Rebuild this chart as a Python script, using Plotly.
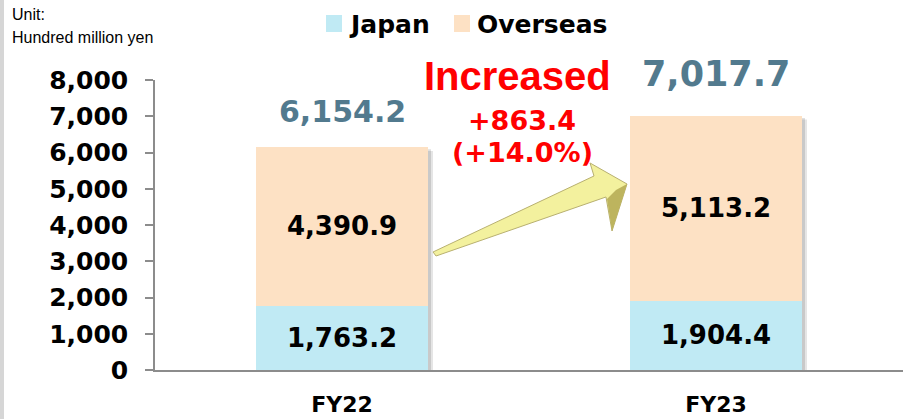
import plotly.graph_objects as go

categories = ["FY22", "FY23"]
japan = [1763.2, 1904.4]
overseas = [4390.9, 5113.2]
totals = [6154.2, 7017.7]
y_ticks = [0, 1000, 2000, 3000, 4000, 5000, 6000, 7000, 8000]
diff_label = "+863.4"
pct_label = "(+14.0%)"
series_names = ["Japan", "Overseas"]
series_colors = ["#C0EAF4", "#FDE1C4"]

W, H = 904, 419
L, R, T, B = 155, 903, 80, 370
FONT = "Verdana, DejaVu Sans, sans-serif"
BAR_W = 0.46
TOTAL_FONT = [30, 35]
TOTAL_SHIFT = [16, 20]

def px(x):
    return (x - L) / (R - L)

def py(y):
    return (B - y) / (B - T)

fig = go.Figure()
for name, vals, col in zip(series_names, [japan, overseas], series_colors):
    fig.add_trace(go.Bar(
        x=categories, y=vals, name=name, showlegend=False,
        marker=dict(color=col, line=dict(width=0)),
        texttemplate="<b>%{y:,.1f}</b>", textposition="inside", insidetextanchor="middle",
        textfont=dict(size=26, color="#000000", family=FONT),
        width=BAR_W,
    ))

annotations = []
for c, t, fs, sh in zip(categories, totals, TOTAL_FONT, TOTAL_SHIFT):
    annotations.append(dict(
        x=c, y=t, xref="x", yref="y", text=f"<b>{t:,.1f}</b>", showarrow=False,
        yanchor="bottom", yshift=sh, font=dict(size=fs, color="#527A8E", family=FONT)))

annotations += [
    dict(x=px(517), y=py(76), xref="paper", yref="paper", text="<b>Increased</b>",
         showarrow=False, font=dict(size=40, color="#FF0000", family="Liberation Sans, Arial"),
         xanchor="center", yanchor="middle"),
    dict(x=px(522), y=py(121), xref="paper", yref="paper", text=f"<b>{diff_label}</b>",
         showarrow=False, font=dict(size=27, color="#FF0000", family=FONT),
         xanchor="center", yanchor="middle"),
    dict(x=px(522), y=py(152), xref="paper", yref="paper", text=f"<b>{pct_label}</b>",
         showarrow=False, font=dict(size=27, color="#FF0000", family=FONT),
         xanchor="center", yanchor="middle"),
    dict(x=px(10), y=py(14), xref="paper", yref="paper", text="Unit:", showarrow=False,
         font=dict(size=16, color="#000000", family="Liberation Sans, Arial"),
         xanchor="left", yanchor="middle"),
    dict(x=px(10), y=py(38), xref="paper", yref="paper", text="Hundred million yen", showarrow=False,
         font=dict(size=16, color="#000000", family="Liberation Sans, Arial"),
         xanchor="left", yanchor="middle"),
]

shapes = []
# manual legend
legend_x = [326, 454]
for name, col, lx in zip(series_names, series_colors, legend_x):
    shapes.append(dict(type="rect", xref="paper", yref="paper",
                       x0=px(lx), x1=px(lx + 16), y0=py(32), y1=py(15),
                       fillcolor=col, line=dict(width=0)))
    annotations.append(dict(x=px(lx + 21), y=py(24), xref="paper", yref="paper",
                            text=f"<b>{name}</b>", showarrow=False, xanchor="left", yanchor="middle",
                            font=dict(size=25, color="#000000", family=FONT)))

arrow_pts = [(433, 252), (594, 176), (590, 163), (627, 184), (612, 231), (606, 197), (436, 256)]
path = "M " + " L ".join(f"{px(x):.4f},{py(y):.4f}" for x, y in arrow_pts) + " Z"
dark_pts = [(627, 184), (612, 231), (607, 199), (616, 190)]
dpath = "M " + " L ".join(f"{px(x):.4f},{py(y):.4f}" for x, y in dark_pts) + " Z"
shapes += [
    dict(type="path", xref="paper", yref="paper", path=path,
         fillcolor="#F3F19E", line=dict(color="#B8B070", width=1)),
    dict(type="path", xref="paper", yref="paper", path=dpath,
         fillcolor="#BDB45E", line=dict(width=0)),
    dict(type="line", xref="paper", yref="paper", x0=px(2), x1=px(2), y0=py(0), y1=py(419),
         line=dict(color="#D6D6D6", width=4)),
]
# soft bar shadows
dx = 5 / (R - L) * 2
for i, (j, o) in enumerate(zip(japan, overseas)):
    top = j + o
    for k, alpha in [(1.0, 0.10), (0.6, 0.12)]:
        shapes.append(dict(type="rect", xref="x", yref="y", layer="below",
                           x0=i - BAR_W / 2 + dx * k, x1=i + BAR_W / 2 + dx * k,
                           y0=0, y1=top - 110 * k,
                           fillcolor=f"rgba(0,0,0,{alpha})", line=dict(width=0)))

fig.update_layout(
    width=W, height=H, barmode="stack", showlegend=False,
    margin=dict(l=L, r=W - R, t=T, b=H - B),
    paper_bgcolor="white", plot_bgcolor="white",
    font=dict(family=FONT, color="#000000"),
    annotations=annotations, shapes=shapes,
    xaxis=dict(range=[-0.5, 1.5], showline=True, linecolor="#8C8C8C", linewidth=1.5,
               ticks="", tickfont=dict(size=22, family=FONT, weight="bold"),
               showgrid=False, zeroline=False, ticklabelstandoff=14),
    yaxis=dict(range=[0, 8000], tickvals=y_ticks, ticktext=[f"{v:,}" for v in y_ticks],
               showline=True, linecolor="#8C8C8C", linewidth=1.5,
               ticks="outside", ticklen=8, tickcolor="#8C8C8C", tickwidth=1.5,
               tickfont=dict(size=25, family=FONT, weight="bold"),
               showgrid=False, zeroline=False, ticklabelstandoff=12),
)

fig.write_html("out.html", config={"displayModeBar": False},
               post_script="document.body.style.margin='0';")
